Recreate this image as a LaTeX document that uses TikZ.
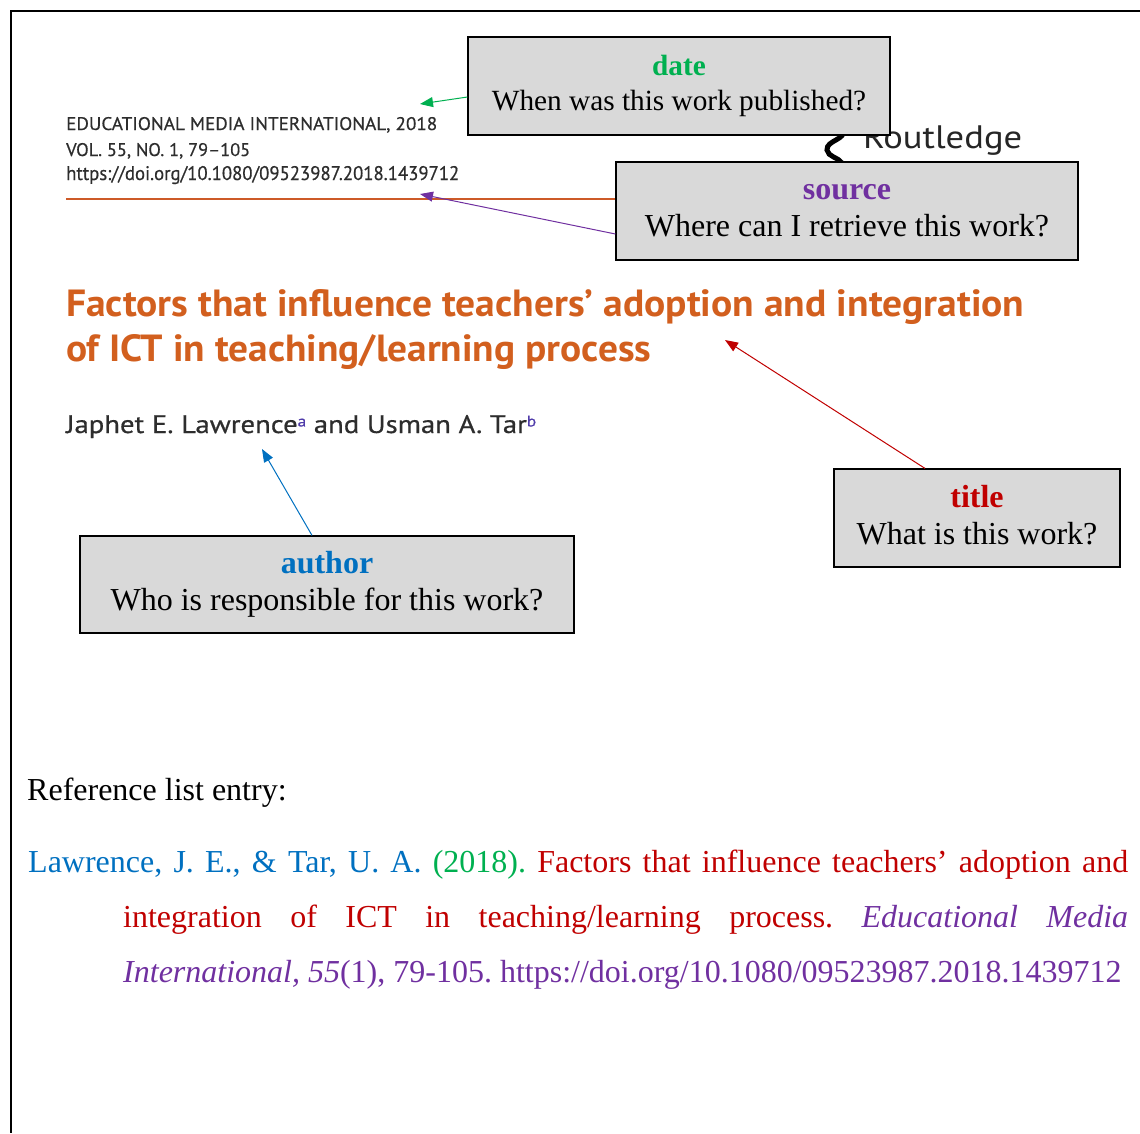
\documentclass[tikz,border=0pt]{standalone}
\usepackage{fontspec}
\setmainfont{Liberation Serif}
\newfontfamily\artsans{PT Sans}
\newfontfamily\artsansmed[FakeBold=0.6]{PT Sans}
\usepackage{graphicx}
\usetikzlibrary{arrows.meta}
\definecolor{dgreen}{HTML}{00B050}
\definecolor{dpurple}{HTML}{7030A0}
\definecolor{dred}{HTML}{C00000}
\definecolor{dblue}{HTML}{0070C0}
\definecolor{boxgray}{HTML}{D9D9D9}
\definecolor{tforange}{RGB}{210,95,30}
\definecolor{hdrgray}{RGB}{45,45,45}
\definecolor{supblue}{RGB}{80,60,170}
\definecolor{rulecol}{RGB}{205,90,40}
\frenchspacing
\tikzset{
  infobox/.style={draw=black, line width=1.2pt, fill=boxgray, align=center, inner sep=0pt,
    minimum height=98pt, font=\fontsize{32}{37}\selectfont},
  art/.style={anchor=base west, inner sep=0pt},
  conn/.style={line width=1pt, -{Triangle[length=13pt,width=10pt]}},
  reftext/.style={anchor=base west, inner sep=0pt, font=\fontsize{32}{38}\selectfont},
}
\newcommand{\qsp}{\vphantom{Ap}}
\newcommand{\supr}[1]{\raisebox{2.6pt}{\fontsize{6}{6}\selectfont\color{supblue}#1}}
\begin{document}
\begin{tikzpicture}[x=1pt,y=-1pt]
\useasboundingbox (0,0) rectangle (1140,1133);
% frame
\draw[line width=2pt] (1140,11) -- (11,11) -- (11,1133);

% article header
\node[art, text=hdrgray] (hdr1) at (66,130) {\resizebox{371pt}{13pt}{\artsansmed EDUCATIONAL MEDIA INTERNATIONAL, 2018}};
\node[art, text=hdrgray] (hdr2) at (66,156) {\resizebox{184pt}{13pt}{\artsansmed VOL. 55, NO. 1, 79–105}};
\node[art, text=hdrgray] (hdr3) at (66,180) {\resizebox{393pt}{14pt}{\artsansmed https://doi.org/10.1080/09523987.2018.1439712}};
\coordinate (ruleA) at (66,199);
\coordinate (ruleB) at (622,199);
\draw[rulecol, line width=2.5pt] (ruleA) -- (ruleB);

% Routledge logo
\node[art, text=black!85] (rlogo) at (863,148) {\resizebox{159pt}{23pt}{\artsans Routledge}};
\draw[line width=5pt, line cap=round] (843,129) .. controls (847,140) and (826,140) .. (827,150) .. controls (828,157) and (838,157) .. (842,163);

% article title and authors
\node[art, text=tforange] (t1) at (66,316) {\resizebox{958pt}{27pt}{\artsans\bfseries Factors that influence teachers’ adoption and integration}};
\node[art, text=tforange] (t2) at (66,361) {\resizebox{585pt}{27pt}{\artsans\bfseries of ICT in teaching/learning process}};
\node[art, text=hdrgray] (auth) at (66,433) {\resizebox{470pt}{18pt}{\artsansmed Japhet E. Lawrence\supr{a} and Usman A. Tar\supr{b}}};

% boxes
\node[infobox, minimum width=422pt, font=\fontsize{29.3}{35}\selectfont] (date) at (679,86)
  {\textbf{\color{dgreen}date}\qsp\\When was this work published?\qsp};
\node[infobox, minimum width=462pt] (source) at (847,211)
  {\textbf{\color{dpurple}source}\qsp\\Where can I retrieve this work?\qsp};
\node[infobox, minimum width=286pt] (title) at (977,518)
  {\textbf{\color{dred}title}\qsp\\What is this work?\qsp};
\node[infobox, minimum width=494pt, minimum height=97pt] (author) at (327,584.5)
  {\textbf{\color{dblue}author}\qsp\\Who is responsible for this work?\qsp};

% connectors
\coordinate (dateTip) at (420,104);
\coordinate (sourceTip) at (420,194);
\coordinate (titleTip) at (725,340);
\coordinate (authorTip) at (262,449);
\draw[conn, dgreen] ([yshift=-11pt]date.west) -- (dateTip);
\draw[conn, dpurple] ([yshift=-23pt]source.west) -- (sourceTip);
\draw[conn, dred] ([xshift=-52pt]title.north) -- (titleTip);
\draw[conn, dblue] ([xshift=-15pt]author.north) -- (authorTip);

% reference list entry
\node[reftext] (refhead) at (27,800) {Reference list entry:};
\node[reftext] (ref1) at (28,872) {\makebox[1100pt][s]{\color{dblue}Lawrence, J. E., \& Tar, U. A. \color{dgreen}(2018). \color{dred}Factors that influence teachers’ adoption and}};
\node[reftext] (ref2) at (123,927) {\makebox[1005pt][s]{\color{dred}integration of ICT in teaching/learning process. \color{dpurple}\itshape Educational Media}};
\node[reftext, text=dpurple] (ref3) at (123,982) {\textit{International, 55}(1), 79-105. https://doi.org/10.1080/09523987.2018.1439712};
\end{tikzpicture}
\end{document}
